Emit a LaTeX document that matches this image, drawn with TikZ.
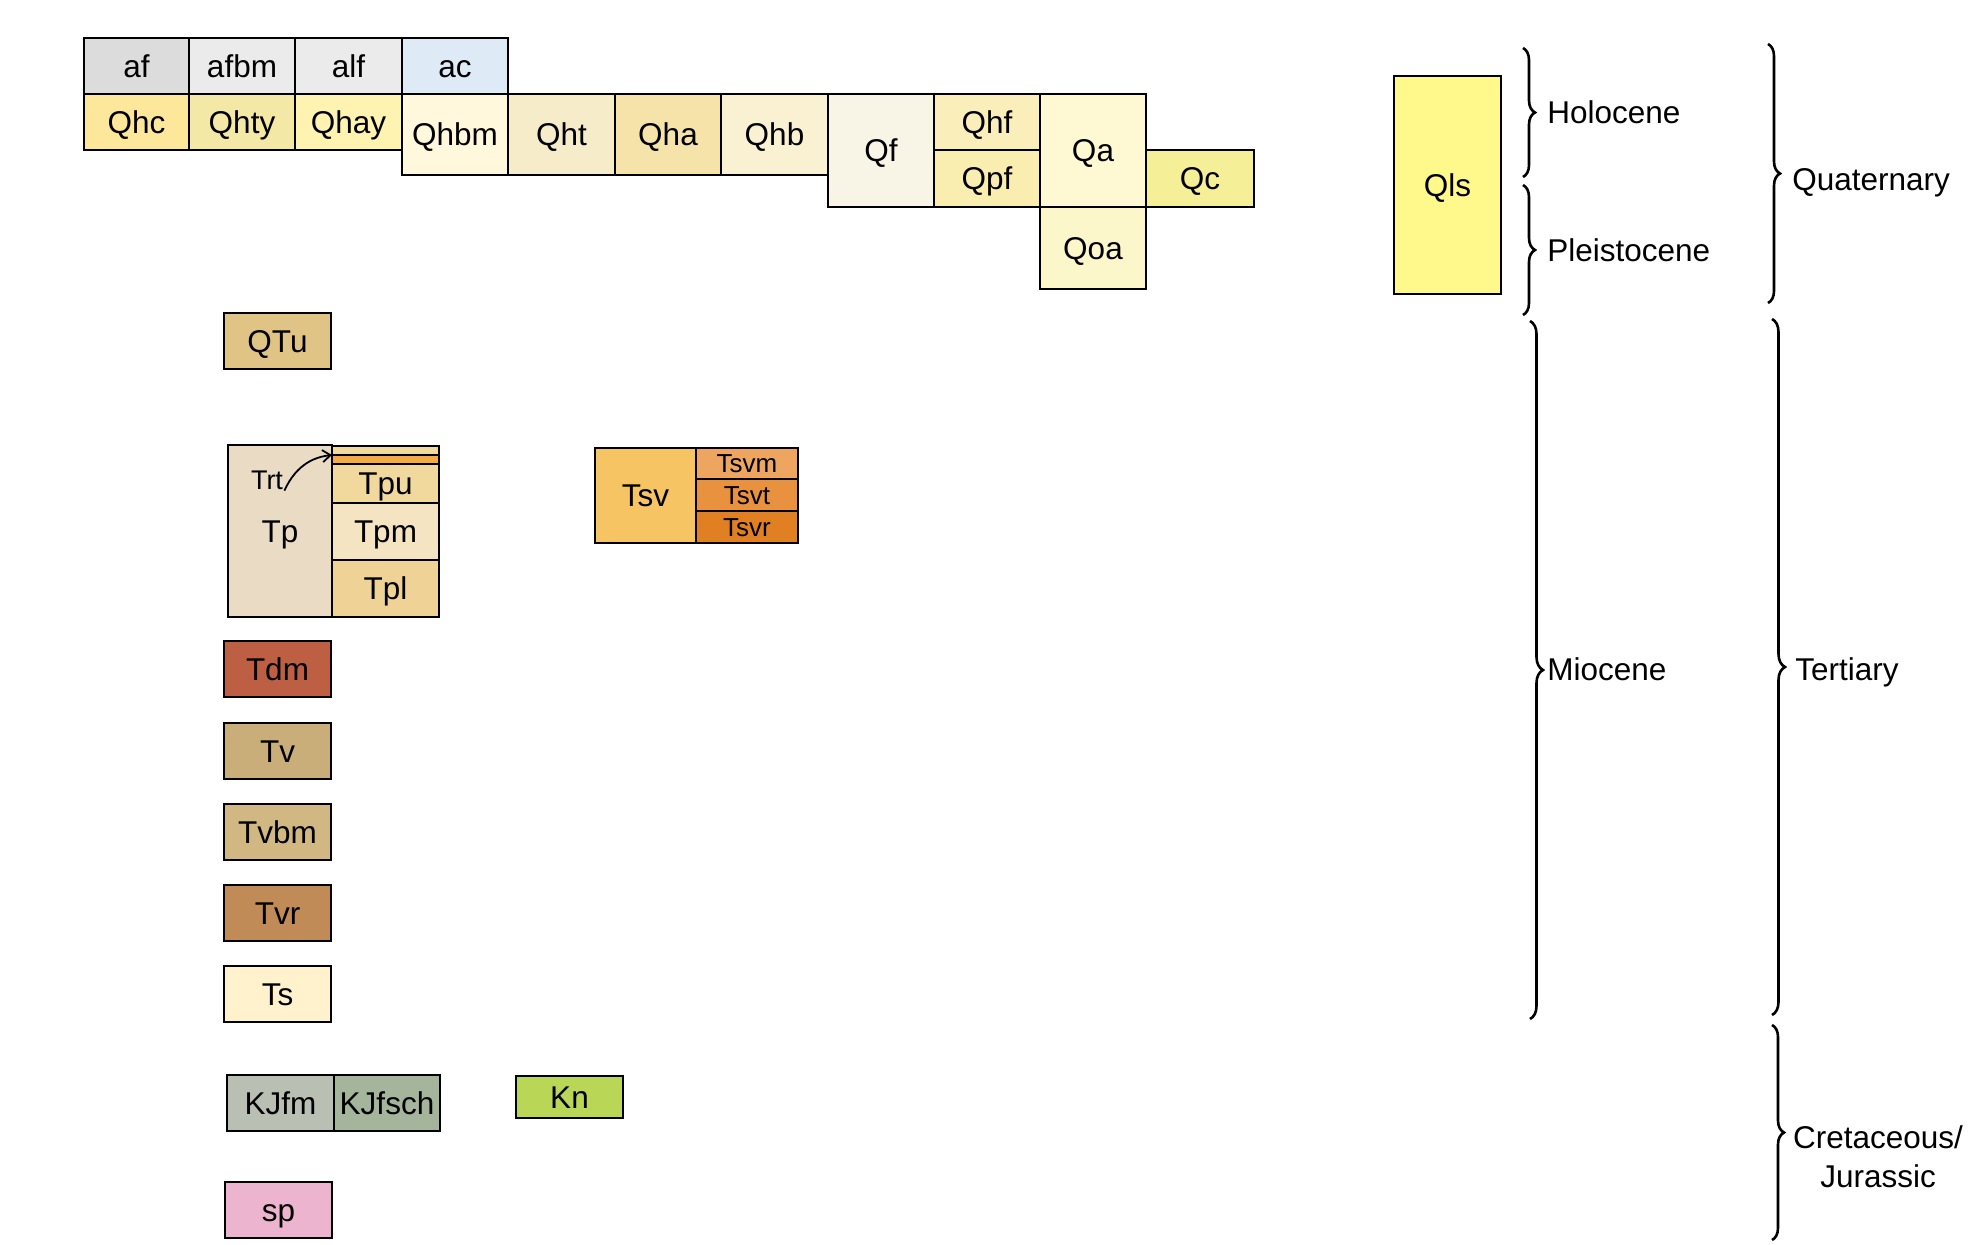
\documentclass[tikz,border=0pt]{standalone}
\usepackage{fontspec}
\setmainfont{Liberation Sans}
\usetikzlibrary{decorations.pathreplacing,arrows.meta}
\definecolor{cAf}{HTML}{DCDCDC}
\definecolor{cAfbm}{HTML}{EBEBEB}
\definecolor{cAlf}{HTML}{EBEBEB}
\definecolor{cAc}{HTML}{DEEBF7}
\definecolor{cQhc}{HTML}{FCE79A}
\definecolor{cQhty}{HTML}{F3E8A5}
\definecolor{cQhay}{HTML}{FEF3B0}
\definecolor{cQhbm}{HTML}{FFF8DC}
\definecolor{cQht}{HTML}{F6ECC9}
\definecolor{cQha}{HTML}{F5E3AA}
\definecolor{cQhb}{HTML}{FAF1D3}
\definecolor{cQf}{HTML}{F8F4E6}
\definecolor{cQhf}{HTML}{FAEEBB}
\definecolor{cQpf}{HTML}{F9EEB0}
\definecolor{cQa}{HTML}{FEF9D3}
\definecolor{cQc}{HTML}{F5EF98}
\definecolor{cQoa}{HTML}{FCF6CB}
\definecolor{cQls}{HTML}{FFF88A}
\definecolor{cQTu}{HTML}{DFC485}
\definecolor{cTp}{HTML}{EADCC4}
\definecolor{cBarA}{HTML}{F1D99E}
\definecolor{cBarB}{HTML}{F4AA45}
\definecolor{cTpu}{HTML}{F1D99E}
\definecolor{cTpm}{HTML}{F4E4C2}
\definecolor{cTpl}{HTML}{EED296}
\definecolor{cTsv}{HTML}{F7C463}
\definecolor{cTsvm}{HTML}{EDA560}
\definecolor{cTsvt}{HTML}{E8913F}
\definecolor{cTsvr}{HTML}{E08022}
\definecolor{cTdm}{HTML}{BD5F43}
\definecolor{cTv}{HTML}{C9AE79}
\definecolor{cTvbm}{HTML}{D1B882}
\definecolor{cTvr}{HTML}{C18B57}
\definecolor{cTs}{HTML}{FFF2CC}
\definecolor{cKJfm}{HTML}{B9BFB3}
\definecolor{cKJfsch}{HTML}{A4B59B}
\definecolor{cKn}{HTML}{B9D657}
\definecolor{cSp}{HTML}{EDB4CF}
\newcommand\bx[8][]{\node[unitbox,fill=#7,minimum width={(#4-#2)*0.5pt},minimum height={(#5-#3)*0.5pt},#1] (#6) at ({(#2+#4)/2},{(#3+#5)/2}) {#8};}
\tikzset{
  unitbox/.style={draw=black,line width=1pt,rectangle,inner sep=0pt,outer sep=0pt,
    font=\fontsize{15.75}{19}\selectfont,text height=11pt,text depth=0pt},
  small/.style={font=\fontsize{13}{15}\selectfont,text height=9.2pt},
  stripe/.style={text height=0pt,text depth=0pt},
  epochlabel/.style={anchor=west,inner sep=0pt,font=\fontsize{15.75}{19.5}\selectfont},
  bracestyle/.style={decorate,line width=1.3pt,decoration={brace,amplitude=#1,aspect=0.5}},
  bracestyle/.default=6pt
}
\begin{document}
\begin{tikzpicture}[x=0.5pt,y=-0.5pt]
\useasboundingbox (0,0) rectangle (1988,1244);
% top row
\bx{84}{38}{189}{94}{af}{cAf}{af}
\bx{189}{38}{295}{94}{afbm}{cAfbm}{afbm}
\bx{295}{38}{402}{94}{alf}{cAlf}{alf}
\bx{402}{38}{508}{94}{ac}{cAc}{ac}
\bx{84}{94}{189}{150}{Qhc}{cQhc}{Qhc}
\bx{189}{94}{295}{150}{Qhty}{cQhty}{Qhty}
\bx{295}{94}{402}{150}{Qhay}{cQhay}{Qhay}
\bx{402}{94}{508}{175}{Qhbm}{cQhbm}{Qhbm}
\bx{508}{94}{615}{175}{Qht}{cQht}{Qht}
\bx{615}{94}{721}{175}{Qha}{cQha}{Qha}
\bx{721}{94}{828}{175}{Qhb}{cQhb}{Qhb}
\bx{828}{94}{934}{207}{Qf}{cQf}{Qf}
\bx{934}{94}{1040}{150}{Qhf}{cQhf}{Qhf}
\bx{934}{150}{1040}{207}{Qpf}{cQpf}{Qpf}
\bx{1040}{94}{1146}{207}{Qa}{cQa}{Qa}
\bx{1146}{150}{1254}{207}{Qc}{cQc}{Qc}
\bx{1040}{207}{1146}{289}{Qoa}{cQoa}{Qoa}
\bx{1394}{76}{1501}{294}{Qls}{cQls}{Qls}
% left column
\bx{224}{313}{331}{369}{QTu}{cQTu}{QTu}
\bx{228}{445}{332}{617}{Tp}{cTp}{Tp}
\bx[stripe]{332}{446}{439}{455}{barA}{cBarA}{}
\bx[stripe]{332}{455}{439}{464}{barB}{cBarB}{}
\bx{332}{464}{439}{503}{Tpu}{cTpu}{Tpu}
\bx{332}{503}{439}{560}{Tpm}{cTpm}{Tpm}
\bx{332}{560}{439}{617}{Tpl}{cTpl}{Tpl}
\node[inner sep=0.5pt,font=\fontsize{13.5}{16}\selectfont,anchor=base] (Trt) at (267,489) {Trt};
\draw[line width=0.9pt,-{Straight Barb[length=4pt,width=6pt]}] (Trt.south east) .. controls (292,474) and (305,458) .. (barB.north west);
\bx{595}{448}{696}{543}{Tsv}{cTsv}{Tsv}
\bx[small]{696}{448}{798}{479}{Tsvm}{cTsvm}{Tsvm}
\bx[small]{696}{479}{798}{511}{Tsvt}{cTsvt}{Tsvt}
\bx[small]{696}{511}{798}{543}{Tsvr}{cTsvr}{Tsvr}
\bx{224}{641}{331}{697}{Tdm}{cTdm}{Tdm}
\bx{224}{723}{331}{779}{Tv}{cTv}{Tv}
\bx{224}{804}{331}{860}{Tvbm}{cTvbm}{Tvbm}
\bx{224}{885}{331}{941}{Tvr}{cTvr}{Tvr}
\bx{224}{966}{331}{1022}{Ts}{cTs}{Ts}
\bx{227}{1075}{334}{1131}{KJfm}{cKJfm}{KJfm}
\bx{334}{1075}{440}{1131}{KJfsch}{cKJfsch}{KJfsch}
\bx{516}{1076}{623}{1118}{Kn}{cKn}{Kn}
\bx{225}{1182}{332}{1238}{sp}{cSp}{sp}
% braces
\coordinate (holT) at (1523,48);   \coordinate (holB) at (1523,177);
\coordinate (pleT) at (1523,185);  \coordinate (pleB) at (1523,315);
\coordinate (mioT) at (1530,321);  \coordinate (mioB) at (1530,1019);
\coordinate (quaT) at (1768,44);   \coordinate (quaB) at (1768,303);
\coordinate (terT) at (1772,319);  \coordinate (terB) at (1772,1015);
\coordinate (creT) at (1772,1025); \coordinate (creB) at (1772,1240);
\draw[bracestyle] (holT) -- (holB);
\draw[bracestyle] (pleT) -- (pleB);
\draw[bracestyle=6.5pt] (mioT) -- (mioB);
\draw[bracestyle] (quaT) -- (quaB);
\draw[bracestyle=6.5pt] (terT) -- (terB);
\draw[bracestyle] (creT) -- (creB);
\node[epochlabel] (hol) at (1547,112) {Holocene};
\node[epochlabel] (ple) at (1547,250) {Pleistocene};
\node[epochlabel] (mio) at (1547,669) {Miocene};
\node[epochlabel] (qua) at (1792,183) {Quaternary};
\node[epochlabel] (ter) at (1795,672) {Tertiary};
\node[epochlabel,anchor=center,align=center] (cre) at (1878,1157) {Cretaceous/\\Jurassic};
\end{tikzpicture}
\end{document}
